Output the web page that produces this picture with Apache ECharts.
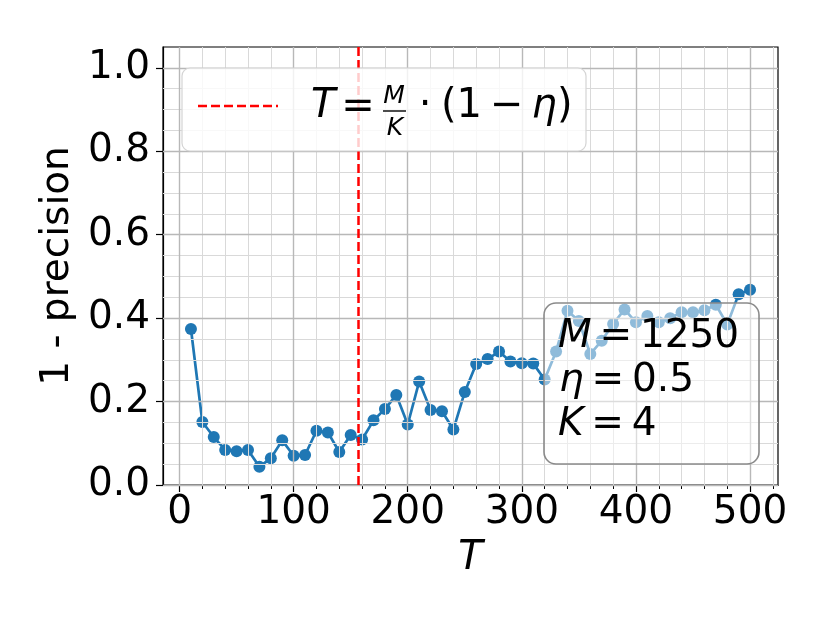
<!DOCTYPE html>
<html>
<head>
<meta charset="utf-8">
<script src="https://cdn.jsdelivr.net/npm/echarts@6/dist/echarts.min.js"></script>
<style>
  html, body { margin: 0; padding: 0; background: #fff; }
  #chart { width: 830px; height: 623px; }
</style>
</head>
<body>
<div id="chart"></div>
<script>
var tValues = [10, 20, 30, 40, 50, 60, 70, 80, 90, 100,
  110, 120, 130, 140, 150, 160, 170, 180, 190, 200,
  210, 220, 230, 240, 250, 260, 270, 280, 290, 300,
  310, 320, 330, 340, 350, 360, 370, 380, 390, 400,
  410, 420, 430, 440, 450, 460, 470, 480, 490, 500];
var errValues = [0.374, 0.151, 0.115, 0.084, 0.081, 0.084, 0.044, 0.064, 0.107, 0.070,
  0.072, 0.130, 0.126, 0.079, 0.120, 0.109, 0.155, 0.182, 0.216, 0.145,
  0.248, 0.180, 0.177, 0.133, 0.223, 0.290, 0.302, 0.320, 0.296, 0.292,
  0.291, 0.253, 0.320, 0.418, 0.393, 0.314, 0.346, 0.386, 0.421, 0.390,
  0.405, 0.390, 0.400, 0.414, 0.414, 0.419, 0.432, 0.385, 0.457, 0.468];
var thresholdT = 156.25; // M/K*(1-eta)

var xMajorTicks = [0, 100, 200, 300, 400, 500];
var xMinorTicks = [20, 40, 60, 80, 120, 140, 160, 180, 220, 240, 260, 280,
  320, 340, 360, 380, 420, 440, 460, 480, 520];
var yMajorTicks = [0, 0.2, 0.4, 0.6, 0.8, 1.0];
var yMinorTicks = [0.05, 0.1, 0.15, 0.25, 0.3, 0.35, 0.45, 0.5, 0.55,
  0.65, 0.7, 0.75, 0.85, 0.9, 0.95];

var FONT = 'DejaVu Sans';
var BLUE = '#1f77b4';

var chart = echarts.init(document.getElementById('chart'));

var points = tValues.map(function (t, i) { return [t, errValues[i]]; });

function gridLines(vals, dim) {
  return vals.map(function (v) {
    var o = {};
    o[dim] = v;
    return o;
  });
}

var tickStyle = { color: '#000', width: 1.2 };
var italic = { fontStyle: 'italic', fontSize: 39, fontFamily: FONT };

var option = {
  animation: false,
  backgroundColor: '#fff',
  grid: {
    left: 163, top: 47, width: 615, height: 438,
    show: true, borderColor: '#000', borderWidth: 1.2, backgroundColor: '#fff'
  },
  xAxis: [{
    type: 'value', min: -14.5, max: 524.5,
    axisLine: { show: true, onZero: false, lineStyle: tickStyle },
    axisTick: { show: true, customValues: xMajorTicks, length: 7, lineStyle: tickStyle },
    axisLabel: { customValues: xMajorTicks, fontFamily: FONT, fontSize: 39, color: '#000', margin: 8 },
    splitLine: { show: false },
    name: 'T', nameLocation: 'middle', nameGap: 54,
    nameTextStyle: { fontFamily: FONT, fontSize: 40, fontStyle: 'italic', color: '#000', verticalAlign: 'top' }
  }, {
    type: 'value', min: -14.5, max: 524.5, position: 'bottom',
    axisLine: { show: false },
    axisTick: { show: true, customValues: xMinorTicks, length: 4, lineStyle: { color: '#000', width: 1 } },
    axisLabel: { show: false },
    splitLine: { show: false }
  }],
  yAxis: [{
    type: 'value', min: 0, max: 1.05,
    axisLine: { show: true, onZero: false, lineStyle: tickStyle },
    axisTick: { show: true, customValues: yMajorTicks, length: 7, lineStyle: tickStyle },
    axisLabel: {
      customValues: yMajorTicks, fontFamily: FONT, fontSize: 39, color: '#000', margin: 13,
      formatter: function (v) { return v.toFixed(1); }
    },
    splitLine: { show: false },
    name: '1 - precision', nameLocation: 'middle', nameGap: 86,
    nameTextStyle: { fontFamily: FONT, fontSize: 39, color: '#000' }
  }, {
    type: 'value', min: 0, max: 1.05, position: 'left',
    axisLine: { show: false },
    axisTick: { show: true, customValues: yMinorTicks, length: 4, lineStyle: { color: '#000', width: 1 } },
    axisLabel: { show: false },
    splitLine: { show: false }
  }],
  series: [{
    // minor grid
    type: 'line', data: [], z: 1, silent: true,
    markLine: {
      silent: true, symbol: ['none', 'none'], label: { show: false },
      lineStyle: { color: '#d9d9d9', width: 1, type: 'solid' },
      data: gridLines(xMinorTicks, 'xAxis').concat(gridLines(yMinorTicks, 'yAxis'))
    }
  }, {
    // major grid
    type: 'line', data: [], z: 1, silent: true,
    markLine: {
      silent: true, symbol: ['none', 'none'], label: { show: false },
      lineStyle: { color: '#b8b8b8', width: 1.4, type: 'solid' },
      data: gridLines(xMajorTicks, 'xAxis').concat(gridLines(yMajorTicks, 'yAxis'))
    }
  }, {
    type: 'line', data: points,
    symbol: 'circle', symbolSize: 12,
    itemStyle: { color: BLUE },
    lineStyle: { color: BLUE, width: 2.7 },
    z: 3
  }, {
    type: 'line', data: [], z: 4, silent: true,
    markLine: {
      silent: true, symbol: ['none', 'none'], label: { show: false },
      lineStyle: { color: '#ff0000', width: 2.5, type: [9, 4] },
      data: [{ xAxis: thresholdT }]
    }
  }],
  graphic: [
    // legend
    {
      type: 'group', z: 100,
      children: [
        {
          type: 'rect', shape: { x: 182, y: 68, width: 404, height: 83, r: 8 },
          style: { fill: 'rgba(255,255,255,0.8)', stroke: '#d4d4d4', lineWidth: 1.2 }, z: 100
        },
        {
          type: 'line', shape: { x1: 198, y1: 106, x2: 278, y2: 106 },
          style: { stroke: '#ff0000', lineWidth: 2.5, lineDash: [9, 4] }, z: 101
        },
        {
          type: 'text', x: 311, y: 107, z: 101,
          style: { text: 'T', font: 'italic 40px "DejaVu Sans"', fill: '#000', verticalAlign: 'middle' }
        },
        {
          type: 'text', x: 358, y: 108, z: 101,
          style: { text: '=', font: '40px "DejaVu Sans"', fill: '#000', align: 'center', verticalAlign: 'middle' }
        },
        {
          type: 'text', x: 394, y: 96, z: 101,
          style: { text: 'M', font: 'italic 25px "DejaVu Sans"', fill: '#000', align: 'center', verticalAlign: 'middle' }
        },
        {
          type: 'line', shape: { x1: 383, y1: 111, x2: 406, y2: 111 },
          style: { stroke: '#000', lineWidth: 1.4 }, z: 101
        },
        {
          type: 'text', x: 395, y: 128, z: 101,
          style: { text: 'K', font: 'italic 25px "DejaVu Sans"', fill: '#000', align: 'center', verticalAlign: 'middle' }
        },
        {
          type: 'text', x: 425, y: 107, z: 101,
          style: { text: '\u00b7', font: '40px "DejaVu Sans"', fill: '#000', align: 'center', verticalAlign: 'middle' }
        },
        {
          type: 'text', x: 441, y: 107, z: 101,
          style: {
            text: '(1\u2009\u2212\u2009{i|\u03b7})', font: '40px "DejaVu Sans"', fill: '#000', verticalAlign: 'middle',
            rich: { i: { fontStyle: 'italic', fontSize: 40, fontFamily: FONT } }
          }
        }
      ]
    },
    // parameter box
    {
      type: 'group', z: 100,
      children: [
        {
          type: 'rect', shape: { x: 544, y: 303, width: 215, height: 161, r: 12 },
          style: { fill: 'rgba(255,255,255,0.5)', stroke: '#8a8a8a', lineWidth: 1.6 }, z: 100
        },
        {
          type: 'text', x: 558, y: 337, z: 101,
          style: {
            text: '{i|M}\u2009=\u20091250', font: '39px "DejaVu Sans"', fill: '#000', verticalAlign: 'middle',
            rich: { i: italic }
          }
        },
        {
          type: 'text', x: 559, y: 381, z: 101,
          style: {
            text: '{i|\u03b7}\u2009=\u20090.5', font: '39px "DejaVu Sans"', fill: '#000', verticalAlign: 'middle',
            rich: { i: italic }
          }
        },
        {
          type: 'text', x: 558, y: 425, z: 101,
          style: {
            text: '{i|K}\u2009=\u20094', font: '39px "DejaVu Sans"', fill: '#000', verticalAlign: 'middle',
            rich: { i: italic }
          }
        }
      ]
    }
  ]
};

chart.setOption(option);
</script>
</body>
</html>
